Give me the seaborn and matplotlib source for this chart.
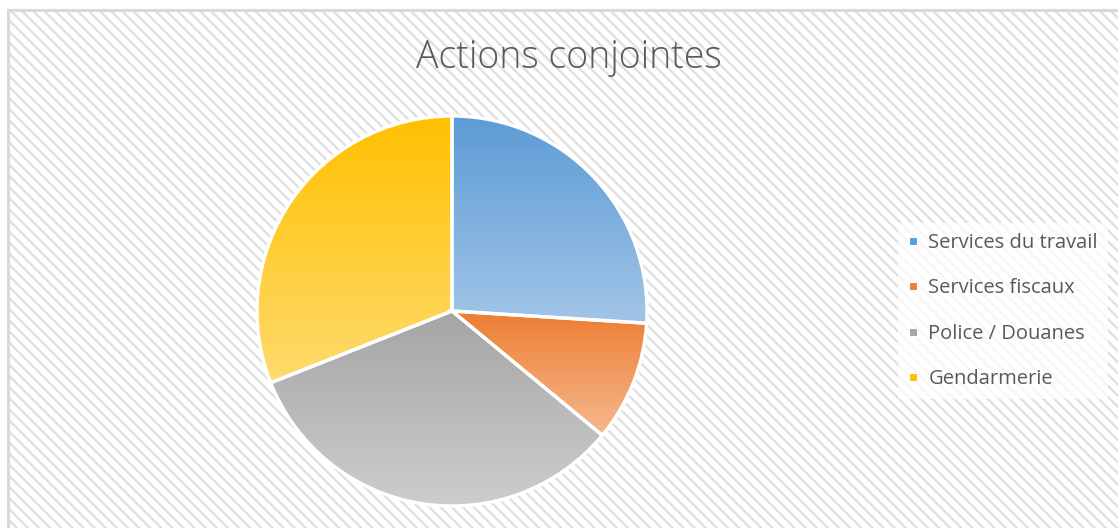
import numpy as np
import matplotlib
matplotlib.use("Agg")
import matplotlib.pyplot as plt
from matplotlib.colors import LinearSegmentedColormap
from matplotlib.patches import Rectangle
from matplotlib.lines import Line2D
import seaborn as sns

# Data
categories = ["Services du travail", "Services fiscaux", "Police / Douanes", "Gendarmerie"]
values = [26, 10, 33, 31]
top_colors = ["#5B9BD5", "#ED7D31", "#A5A5A5", "#FFC000"]
bottom_colors = ["#A2C5E7", "#F5B98F", "#CDCDCD", "#FFDB6E"]
title = "Actions conjointes"

sns.set_theme(style="white")
plt.rcParams["font.family"] = ["Open Sans", "DejaVu Sans"]
plt.rcParams["hatch.linewidth"] = 1.7
plt.rcParams["hatch.color"] = "#E0E0E0"

W, H = 1118, 528
fig = plt.figure(figsize=(W / 100, H / 100), dpi=100)
fig.patch.set_facecolor("white")

# Hatched chart-area background with a thin grey border
bg = Rectangle((8 / W, 0), 1.0, 1 - 10 / H, transform=fig.transFigure,
               facecolor="white", edgecolor="#E0E0E0", hatch="\\\\\\",
               linewidth=0, zorder=-10)
fig.patches.append(bg)
border = Rectangle((8 / W, -0.01), 1.0, 1 - 10 / H + 0.01, transform=fig.transFigure,
                   facecolor="none", edgecolor="#D9D9D9", linewidth=2.2, zorder=-9)
fig.patches.append(border)

# Pie axes
cx, cy, r = 452, 311, 195
ax = fig.add_axes([(cx - r) / W, (H - cy - r) / H, 2 * r / W, 2 * r / H])
ax.set_facecolor("none")
ax.patch.set_alpha(0)

wedges, _ = ax.pie(values, startangle=90, counterclock=False, radius=1,
                   colors=top_colors,
                   wedgeprops=dict(edgecolor="white", linewidth=2.4))

# Vertical gradient fill for each slice, clipped to the wedge shape
grad = np.linspace(0, 1, 256).reshape(-1, 1)
for w, c0, c1 in zip(wedges, top_colors, bottom_colors):
    ext = w.get_path().get_extents()
    cmap = LinearSegmentedColormap.from_list("g", [c0, c1])
    im = ax.imshow(grad, cmap=cmap, aspect="auto", origin="upper",
                   extent=(ext.x0, ext.x1, ext.y0, ext.y1), zorder=1,
                   interpolation="bilinear")
    im.set_clip_path(w)
    w.set_facecolor("none")
    w.set_zorder(2)
ax.set_xlim(-1.0, 1.0)
ax.set_ylim(-1.0, 1.0)
ax.set_aspect("equal")
ax.axis("off")

# Title
fig.text(569 / W, 1 - 58 / H, title, ha="center", va="center",
         fontsize=27, color="#595959", fontweight="light")

# Legend
handles = [Line2D([0], [0], marker="s", linestyle="none", markersize=6,
                  markerfacecolor=c, markeredgecolor="white", markeredgewidth=0.8)
           for c in top_colors]
leg = fig.legend(handles, categories, loc="center left",
                 bbox_to_anchor=(888 / W, 1 - 311 / H), frameon=True,
                 fontsize=14.5, labelcolor="#595959", handlelength=0.5,
                 handletextpad=0.5, labelspacing=1.25, borderpad=0.5,
                 fancybox=False)
leg.get_frame().set_facecolor("white")
leg.get_frame().set_alpha(0.75)
leg.get_frame().set_linewidth(0)

fig.savefig("out.png", dpi=100, facecolor="white")
